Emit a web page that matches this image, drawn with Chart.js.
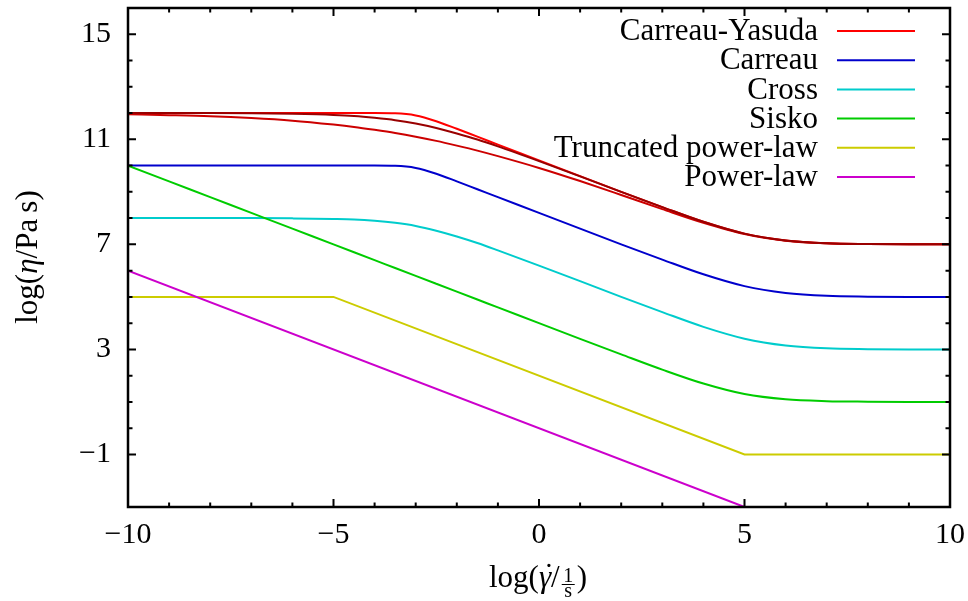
<!DOCTYPE html>
<html lang="en">
<head>
<meta charset="UTF-8">
<title>Viscosity models</title>
<script src="https://cdn.jsdelivr.net/npm/chart.js@4.4.1/dist/chart.umd.min.js"></script>
<style>
  html, body { margin: 0; padding: 0; background: #fff; }
  canvas { display: block; }
</style>
</head>
<body>
<canvas id="viscosity" width="968" height="601"></canvas>
<script>
// log10 of shear rate, shared by the smooth curves
const shearRate = [-10, -9, -8, -7, -6, -5, -4.5, -4, -3.5, -3, -2.5, -2, -1.5, -1, 0, 1, 2, 3, 4, 5, 6, 7, 8, 9, 10];

// log10 of viscosity
const carreauYasudaSharp = [12, 12, 12, 12, 12, 12, 12, 12, 11.99, 11.91, 11.69, 11.4, 11.1, 10.8, 10.2, 9.6, 9.0, 8.42, 7.86, 7.41, 7.15, 7.04, 7.01, 7.0, 7.0];
const carreauYasudaMid = [12, 12, 12, 11.99, 11.97, 11.93, 11.89, 11.82, 11.73, 11.6, 11.43, 11.22, 10.99, 10.73, 10.17, 9.59, 9.0, 8.42, 7.86, 7.41, 7.15, 7.04, 7.01, 7.0, 7.0];
const carreauYasudaSoft = [11.95, 11.92, 11.88, 11.81, 11.71, 11.56, 11.47, 11.36, 11.24, 11.1, 10.94, 10.76, 10.57, 10.36, 9.91, 9.41, 8.88, 8.34, 7.82, 7.39, 7.14, 7.04, 7.01, 7.0, 7.0];
const carreau = [10, 10, 10, 10, 10, 10, 10, 10, 9.99, 9.91, 9.69, 9.4, 9.1, 8.8, 8.2, 7.6, 7.0, 6.42, 5.86, 5.41, 5.15, 5.04, 5.01, 5.0, 5.0];
const cross = [8.0, 8.0, 8.0, 8.0, 7.99, 7.97, 7.95, 7.9, 7.82, 7.7, 7.52, 7.3, 7.05, 6.77, 6.19, 5.6, 5.0, 4.42, 3.86, 3.41, 3.15, 3.04, 3.01, 3.0, 3.0];
const sisko = [10, 9.4, 8.8, 8.2, 7.6, 7.0, 6.7, 6.4, 6.1, 5.8, 5.5, 5.2, 4.9, 4.6, 4.0, 3.4, 2.81, 2.23, 1.7, 1.3, 1.1, 1.03, 1.01, 1.0, 1.0];

const truncatedX = [-10, -5, 5, 10];
const truncatedY = [5, 5, -1, -1];
const powerLawX = [-10, 5];
const powerLawY = [6, -3];

const xTickValues = [-10, -5, 0, 5, 10];
const yTickValues = [-1, 3, 7, 11, 15];

const legendLabels = ['Carreau-Yasuda', 'Carreau', 'Cross', 'Sisko', 'Truncated power-law', 'Power-law'];
const legendColors = ['#ff0000', '#0000cc', '#00cccc', '#00cc00', '#cccc00', '#cc00cc'];

const serif = "'Liberation Serif', 'Times New Roman', serif";

function pairs(xs, ys) {
    return xs.map((x, i) => ({ x: x, y: ys[i] }));
}

function curve(values, color, order) {
    return {
        data: pairs(shearRate, values),
        borderColor: color,
        borderWidth: 2,
        cubicInterpolationMode: 'monotone',
        order: order
    };
}

function minus(v) {
    return v < 0 ? '\u2212' + (-v) : String(v);
}

// box, inward ticks on all four sides, legend and axis titles
const frame = {
    id: 'frame',
    afterDraw(chart) {
        const { ctx, chartArea: a, scales: { x, y } } = chart;
        ctx.save();
        ctx.strokeStyle = '#000';
        ctx.lineWidth = 2;
        ctx.beginPath();
        for (let v = -10; v <= 10; v++) {
            const len = xTickValues.includes(v) ? 8 : 4.5;
            const px = x.getPixelForValue(v);
            ctx.moveTo(px, a.bottom); ctx.lineTo(px, a.bottom - len);
            ctx.moveTo(px, a.top); ctx.lineTo(px, a.top + len);
        }
        for (let v = -1; v <= 15; v++) {
            const len = yTickValues.includes(v) ? 8 : 4.5;
            const py = y.getPixelForValue(v);
            ctx.moveTo(a.left, py); ctx.lineTo(a.left + len, py);
            ctx.moveTo(a.right, py); ctx.lineTo(a.right - len, py);
        }
        ctx.stroke();
        ctx.lineWidth = 2.5;
        ctx.strokeRect(a.left, a.top, a.right - a.left, a.bottom - a.top);

        // legend
        ctx.font = '31px ' + serif;
        ctx.fillStyle = '#000';
        ctx.textAlign = 'right';
        ctx.textBaseline = 'middle';
        legendLabels.forEach((label, i) => {
            const ry = 31 + i * 29.2;
            ctx.fillText(label, 818, ry + 1);
            ctx.strokeStyle = legendColors[i];
            ctx.lineWidth = 2;
            ctx.beginPath();
            ctx.moveTo(837, ry); ctx.lineTo(915, ry);
            ctx.stroke();
        });

        // y title: log(η/Pa s)
        ctx.textAlign = 'left';
        ctx.textBaseline = 'alphabetic';
        const upright = '31px ' + serif, slanted = 'italic 31px ' + serif;
        const yParts = [['log(', upright], ['\u03B7', slanted], ['/Pa\u2009s)', upright]];
        ctx.save();
        ctx.translate(37, 257);
        ctx.rotate(-Math.PI / 2);
        let w = 0;
        yParts.forEach(p => { ctx.font = p[1]; w += ctx.measureText(p[0]).width; });
        let cx = -w / 2;
        yParts.forEach(p => { ctx.font = p[1]; ctx.fillText(p[0], cx, 0); cx += ctx.measureText(p[0]).width; });
        ctx.restore();

        // x title: log(γ̇ / (1/s))
        const base = 587;
        const small = '20px ' + serif;
        ctx.font = upright;
        const wLog = ctx.measureText('log(').width;
        ctx.font = slanted;
        const wGam = ctx.measureText('\u03B3').width;
        ctx.font = upright;
        const wSl = ctx.measureText('/').width;
        const wPar = ctx.measureText(')').width;
        const wFrac = 13;
        let sx = 538 - (wLog + wGam + wSl + wFrac + wPar + 4) / 2;
        ctx.fillText('log(', sx, base); sx += wLog;
        ctx.font = slanted;
        ctx.fillText('\u03B3', sx, base);
        ctx.textAlign = 'center';
        ctx.fillText('\u02D9', sx + wGam / 2 + 2, base - 2);
        ctx.textAlign = 'left';
        sx += wGam;
        ctx.font = upright;
        ctx.fillText('/', sx, base); sx += wSl + 2;
        ctx.font = small;
        ctx.textAlign = 'center';
        ctx.fillText('1', sx + wFrac / 2, base - 5);
        ctx.fillText('s', sx + wFrac / 2, base + 10);
        ctx.strokeStyle = '#000';
        ctx.lineWidth = 1;
        ctx.beginPath();
        ctx.moveTo(sx, base - 2.5); ctx.lineTo(sx + wFrac, base - 2.5);
        ctx.stroke();
        ctx.textAlign = 'left';
        sx += wFrac + 2;
        ctx.font = upright;
        ctx.fillText(')', sx, base);
        ctx.restore();
    }
};

new Chart(document.getElementById('viscosity'), {
    type: 'line',
    data: {
        datasets: [
            curve(carreauYasudaSharp, '#ff0000', 9),
            curve(carreauYasudaSoft, '#cc0000', 8),
            curve(carreauYasudaMid, '#990000', 7),
            curve(carreau, '#0000cc', 5),
            curve(cross, '#00cccc', 4),
            curve(sisko, '#00cc00', 3),
            { data: pairs(truncatedX, truncatedY), borderColor: '#cccc00', borderWidth: 2, tension: 0, order: 2 },
            { data: pairs(powerLawX, powerLawY), borderColor: '#cc00cc', borderWidth: 2, tension: 0, order: 1 }
        ]
    },
    options: {
        responsive: false,
        animation: false,
        events: [],
        layout: { padding: { top: 8, right: 18, left: 0, bottom: 0 } },
        elements: { point: { radius: 0 } },
        plugins: { legend: { display: false }, tooltip: { enabled: false } },
        scales: {
            x: {
                type: 'linear',
                min: -10,
                max: 10,
                grid: { display: false, drawTicks: false },
                border: { display: false },
                afterBuildTicks: s => { s.ticks = xTickValues.map(v => ({ value: v })); },
                afterFit: s => { s.height = 94; s.paddingLeft = 0; s.paddingRight = 0; },
                ticks: { color: '#000', font: { family: serif, size: 30 }, padding: 10, maxRotation: 0, autoSkip: false, callback: minus }
            },
            y: {
                type: 'linear',
                min: -3,
                max: 16,
                grid: { display: false, drawTicks: false },
                border: { display: false },
                afterBuildTicks: s => { s.ticks = yTickValues.map(v => ({ value: v })); },
                afterFit: s => { s.width = 128; s.paddingTop = 0; s.paddingBottom = 0; },
                ticks: { color: '#000', font: { family: serif, size: 30 }, padding: 17, autoSkip: false, callback: minus }
            }
        }
    },
    plugins: [frame]
});
</script>
</body>
</html>
